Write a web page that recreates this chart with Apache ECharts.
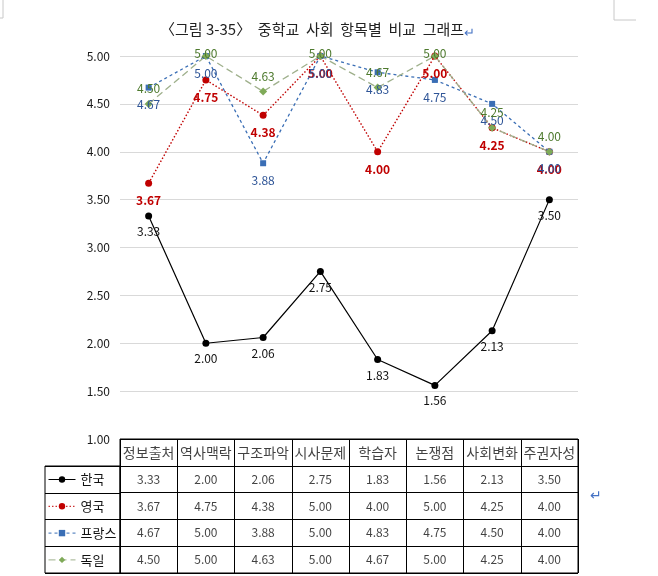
<!DOCTYPE html>
<html>
<head>
    <meta charset="UTF-8">
    <title>중학교 사회 항목별 비교 그래프</title>
    <style>
        html, body {
            margin: 0;
            padding: 0;
            width: 100%;
            height: 100%;
            overflow: hidden;
            background: #fff;
        }
        #main {
            width: 658px;
            height: 576px;
        }
    </style>
    <script src="https://cdn.jsdelivr.net/npm/echarts@6/dist/echarts.min.js"></script>
</head>
<body>
    <div id="main"></div>

    <script>
        // 항목(가로축) 과 나라별 점수
        const categories = ['정보출처', '역사맥락', '구조파악', '시사문제', '학습자', '논쟁점', '사회변화', '주권자성'];
        const countries = ['한국', '영국', '프랑스', '독일'];
        const korea = [3.33, 2.00, 2.06, 2.75, 1.83, 1.56, 2.13, 3.50];
        const uk = [3.67, 4.75, 4.38, 5.00, 4.00, 5.00, 4.25, 4.00];
        const france = [4.67, 5.00, 3.88, 5.00, 4.83, 4.75, 4.50, 4.00];
        const germany = [4.50, 5.00, 4.63, 5.00, 4.67, 5.00, 4.25, 4.00];

        const FONT = '"Noto Sans CJK KR", "Noto Sans", sans-serif';
        const allValues = [korea, uk, france, germany];

        // table cells: header row + one row per country
        const headerCells = categories.map((c, i) => [i, 0, c]);
        const valueCells = [];
        allValues.forEach((vals, r) => {
            vals.forEach((v, i) => valueCells.push([i, r + 1, v.toFixed(2)]));
        });

        function labelFmt(p) {
            return Number(p.value).toFixed(2);
        }

        const chart = echarts.init(document.getElementById('main'));

        const option = {
            animation: false,
            textStyle: { fontFamily: FONT },
            title: {
                text: '〈그림 3-35〉  중학교  사회  항목별  비교  그래프{r|↵}',
                left: 155,
                top: 15,
                textStyle: {
                    fontFamily: FONT,
                    fontSize: 15,
                    fontWeight: 'normal',
                    color: '#222',
                    rich: { r: { color: '#4472C4', fontSize: 13, padding: [6, 0, 0, 0] } }
                }
            },
            legend: {
                orient: 'vertical',
                left: 48,
                top: 473,
                padding: 0,
                itemWidth: 27,
                itemHeight: 8,
                itemGap: 13.8,
                selectedMode: false,
                data: countries,
                lineStyle: { width: 1 },
                textStyle: { fontFamily: FONT, fontSize: 13, color: '#111', lineHeight: 12 }
            },
            grid: [
                { left: 120, top: 56, width: 458, height: 383 },
                { left: 120, top: 439, width: 458, height: 134, show: true, borderColor: '#000', borderWidth: 1, z: 3 },
                { left: 45, top: 466, width: 75, height: 107, show: true, borderColor: '#000', borderWidth: 1, z: 3 }
            ],
            xAxis: [
                {
                    type: 'category', gridIndex: 0, data: categories, boundaryGap: true,
                    axisLine: { show: false }, axisTick: { show: false }, axisLabel: { show: false }
                },
                {
                    type: 'category', gridIndex: 1, data: categories, boundaryGap: true,
                    axisLine: { show: false }, axisTick: { show: false }, axisLabel: { show: false },
                    splitLine: { show: true, interval: 0, lineStyle: { color: '#000', width: 1 } }
                },
                {
                    type: 'value', gridIndex: 2, min: 0, max: 1, show: false
                }
            ],
            yAxis: [
                {
                    type: 'value', gridIndex: 0, min: 1, max: 5, interval: 0.5,
                    axisLine: { show: false }, axisTick: { show: false },
                    axisLabel: {
                        formatter: v => v.toFixed(2), color: '#1a1a1a', fontSize: 12, margin: 10
                    },
                    splitLine: { lineStyle: { color: '#D9D9D9', width: 1 } }
                },
                {
                    type: 'category', gridIndex: 1, data: [''].concat(countries), inverse: true,
                    axisLine: { show: false }, axisTick: { show: false }, axisLabel: { show: false },
                    splitLine: { show: true, interval: 0, lineStyle: { color: '#000', width: 1 } }
                },
                {
                    type: 'category', gridIndex: 2, data: countries, inverse: true,
                    axisLine: { show: false }, axisTick: { show: false }, axisLabel: { show: false },
                    splitLine: { show: true, interval: 0, lineStyle: { color: '#000', width: 1 } }
                }
            ],
            series: [
                {
                    name: '한국', type: 'line', data: korea,
                    symbol: 'circle', symbolSize: 7,
                    itemStyle: { color: '#000' },
                    lineStyle: { color: '#000', width: 1.2 },
                    label: { show: true, position: 'bottom', distance: 6, color: '#111', fontSize: 12, formatter: labelFmt },
                    z: 4
                },
                {
                    name: '영국', type: 'line', data: uk,
                    symbol: 'circle', symbolSize: 7,
                    itemStyle: { color: '#C00000' },
                    lineStyle: { color: '#C00000', width: 1.4, type: [1.5, 2] },
                    label: { show: true, position: 'bottom', distance: 8, color: '#C00000', fontSize: 12, fontWeight: 'bold', formatter: labelFmt },
                    z: 4
                },
                {
                    name: '프랑스', type: 'line', data: france,
                    symbol: 'rect', symbolSize: 6,
                    itemStyle: { color: '#3A6EB5' },
                    lineStyle: { color: '#3A6EB5', width: 1.3, type: [3, 3] },
                    label: { show: true, position: 'bottom', distance: 8, color: '#2F5597', fontSize: 12, formatter: labelFmt },
                    z: 4
                },
                {
                    name: '독일', type: 'line',
                    // 5.00 labels sit on top of the marker like in the original
                    data: germany.map(v => v >= 5 ? { value: v, label: { offset: [0, 12] } } : v),
                    symbol: 'diamond', symbolSize: 8,
                    itemStyle: { color: '#7FAA58' },
                    lineStyle: { color: '#9FB08C', width: 1.3, type: [7, 4] },
                    label: { show: true, position: 'top', distance: 5, color: '#4E7A2E', fontSize: 12, formatter: labelFmt },
                    z: 4
                },
                {
                    name: 'tableHeader', type: 'scatter', xAxisIndex: 1, yAxisIndex: 1,
                    data: headerCells, symbolSize: 1, itemStyle: { color: 'transparent' }, silent: true,
                    label: { show: true, position: 'inside', formatter: p => p.value[2], color: '#111', fontSize: 14 }
                },
                {
                    name: 'tableValues', type: 'scatter', xAxisIndex: 1, yAxisIndex: 1,
                    data: valueCells, symbolSize: 1, itemStyle: { color: 'transparent' }, silent: true,
                    label: { show: true, position: 'inside', formatter: p => p.value[2], color: '#111', fontSize: 12 }
                }
            ],
            graphic: [
                { type: 'text', left: 590, top: 488, style: { text: '↵', fill: '#4472C4', font: '14px ' + FONT } },
                { type: 'polyline', shape: { points: [[3, 0], [3, 18], [0, 18]] }, style: { stroke: '#C8C8C8', lineWidth: 1, fill: null } },
                { type: 'polyline', shape: { points: [[614, 0], [614, 20], [636, 20]] }, style: { stroke: '#C8C8C8', lineWidth: 1, fill: null } }
            ]
        };

        chart.setOption(option);

        window.addEventListener('resize', () => chart.resize());
    </script>
</body>
</html>
